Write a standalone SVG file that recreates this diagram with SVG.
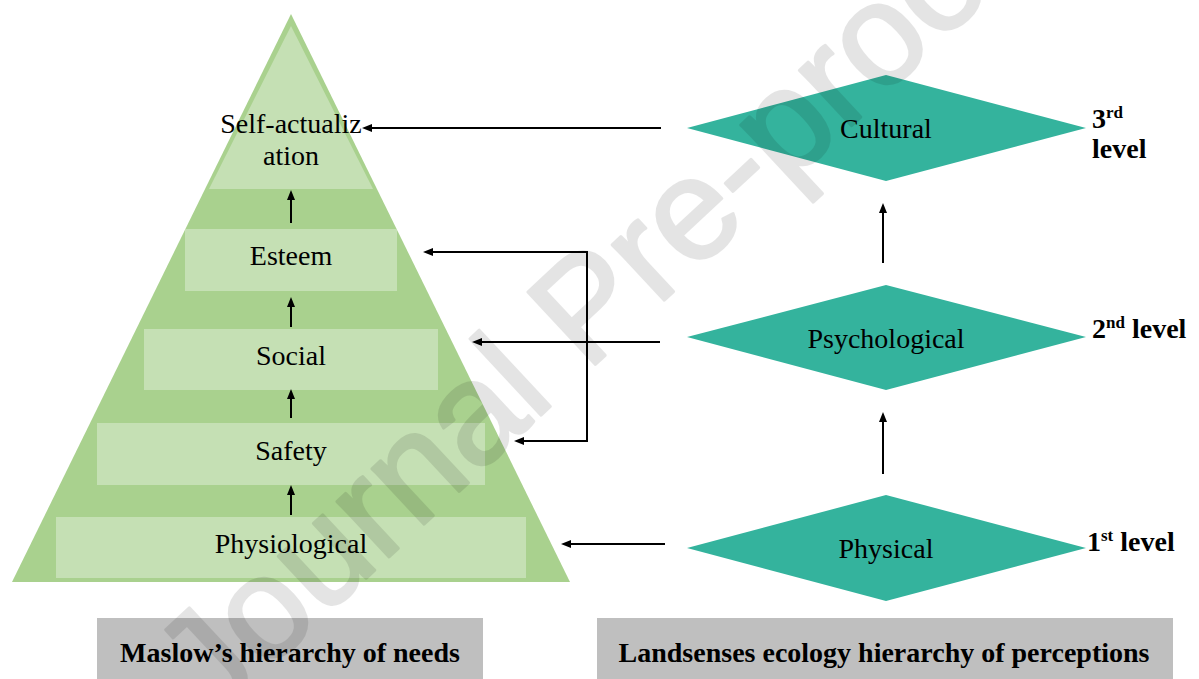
<svg xmlns="http://www.w3.org/2000/svg" width="1199" height="679" viewBox="0 0 1199 679">
  <style>
    .lbl { font-family: "Liberation Serif", "Times New Roman", serif; font-size: 28px; fill: #000; text-anchor: middle; }
    .bold { font-family: "Liberation Serif", "Times New Roman", serif; font-size: 28px; font-weight: bold; fill: #000; }
    .sup { font-size: 17px; }
    .tier { fill: #c5e0b4; }
    .diamond { fill: #34b39d; }
    .caption { fill: #bfbfbf; }
    .conn { fill: none; stroke: #000; stroke-width: 2; }
    .wm { font-family: "Liberation Sans", Arial, sans-serif; font-size: 144px; fill: #000; stroke: #000; stroke-width: 3; stroke-linejoin: round; }
  </style>
  <defs>
    <marker id="arrow" markerUnits="userSpaceOnUse" markerWidth="10" markerHeight="8" refX="3" refY="4" orient="auto-start-reverse">
      <path d="M0,0 L10,4 L0,8 z" fill="#000"/>
    </marker>
  </defs>

  <rect width="1199" height="679" fill="#fff"/>

  <!-- Maslow pyramid -->
  <g id="pyramid">
    <polygon points="291,14 570,582 12,582" fill="#a9d18e"/>
  </g>
  <g id="self-actualization">
    <polygon class="tier" points="291,26 373,189 209,189"/>
    <text class="lbl" x="291" y="133">Self-actualiz</text>
    <text class="lbl" x="291" y="165">ation</text>
  </g>
  <g id="esteem">
    <rect class="tier" x="185" y="229" width="212" height="62"/>
    <text class="lbl" x="291" y="265">Esteem</text>
  </g>
  <g id="social">
    <rect class="tier" x="144" y="329" width="294" height="61"/>
    <text class="lbl" x="291" y="365">Social</text>
  </g>
  <g id="safety">
    <rect class="tier" x="97" y="423" width="388" height="62"/>
    <text class="lbl" x="291" y="460">Safety</text>
  </g>
  <g id="physiological">
    <rect class="tier" x="56" y="517" width="470" height="61"/>
    <text class="lbl" x="291" y="553">Physiological</text>
  </g>

  <!-- Perception levels -->
  <g id="cultural">
    <polygon class="diamond" points="687,128 886,75 1086,128 886,181"/>
    <text class="lbl" x="886" y="138">Cultural</text>
  </g>
  <g id="psychological">
    <polygon class="diamond" points="687,337 886,285 1086,337 886,390"/>
    <text class="lbl" x="886" y="348">Psychological</text>
  </g>
  <g id="physical">
    <polygon class="diamond" points="687,548 886,495 1086,548 886,601"/>
    <text class="lbl" x="886" y="558">Physical</text>
  </g>

  <!-- Level labels -->
  <g id="level-3">
    <text class="bold" x="1092" y="128">3<tspan class="sup" dy="-10">rd</tspan></text>
    <text class="bold" x="1092" y="158">level</text>
  </g>
  <g id="level-2">
    <text class="bold" x="1092" y="338">2<tspan class="sup" dy="-10">nd</tspan><tspan dy="10"> level</tspan></text>
  </g>
  <g id="level-1">
    <text class="bold" x="1087" y="551">1<tspan class="sup" dy="-10">st</tspan><tspan dy="10"> level</tspan></text>
  </g>

  <!-- Captions -->
  <g id="caption-maslow">
    <rect class="caption" x="97" y="618" width="386" height="61"/>
    <text class="bold" x="290" y="662" text-anchor="middle">Maslow’s hierarchy of needs</text>
  </g>
  <g id="caption-landsenses">
    <rect class="caption" x="597" y="618" width="576" height="61"/>
    <text class="bold" x="884" y="662" text-anchor="middle">Landsenses ecology hierarchy of perceptions</text>
  </g>

  <!-- Connectors -->
  <g id="connectors">
    <path class="conn" d="M291,223 V197" marker-end="url(#arrow)"/>
    <path class="conn" d="M291,327 V304" marker-end="url(#arrow)"/>
    <path class="conn" d="M291,418 V396" marker-end="url(#arrow)"/>
    <path class="conn" d="M291,515 V492" marker-end="url(#arrow)"/>
    <path class="conn" d="M883,263 V210" marker-end="url(#arrow)"/>
    <path class="conn" d="M883,474 V419" marker-end="url(#arrow)"/>
    <path class="conn" d="M661,128 H369" marker-end="url(#arrow)"/>
    <path class="conn" d="M660,342 H479" marker-end="url(#arrow)"/>
    <path class="conn" d="M665,544 H568" marker-end="url(#arrow)"/>
    <path class="conn" d="M430,252 H587 V441 H521" marker-start="url(#arrow)" marker-end="url(#arrow)"/>
  </g>

  <!-- Watermark, composited once so the outline does not double the tint -->
  <g id="watermark" opacity="0.1">
    <text class="wm" transform="translate(212,722) rotate(-43)">Journal Pre-proof</text>
  </g>
</svg>
